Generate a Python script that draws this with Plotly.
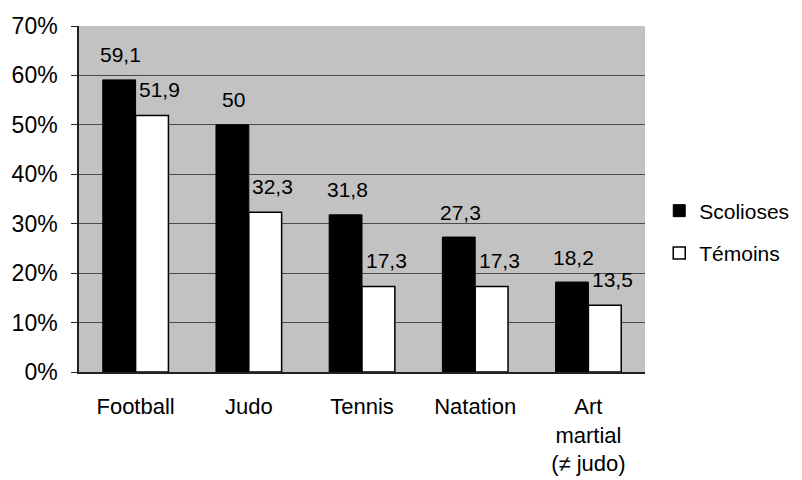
import plotly.graph_objects as go

categories = ["Football", "Judo", "Tennis", "Natation", "Art<br>martial<br>(≠ judo)"]
scolioses = [59.1, 50, 31.8, 27.3, 18.2]
temoins = [51.9, 32.3, 17.3, 17.3, 13.5]
tick_vals = [0, 10, 20, 30, 40, 50, 60, 70]
tick_text = ["0%", "10%", "20%", "30%", "40%", "50%", "60%", "70%"]

def fmt(v):
    s = ("%.1f" % v).rstrip("0").rstrip(".")
    return s.replace(".", ",")

FONT = "Liberation Sans, Arial, sans-serif"

fig = go.Figure()
fig.add_trace(go.Bar(x=categories, y=scolioses, name="Scolioses", legendgroup="a",
                     marker=dict(color="black", line=dict(color="black", width=1))))
fig.add_trace(go.Bar(x=categories, y=temoins, name="Témoins", legendgroup="b",
                     marker=dict(color="white", line=dict(color="black", width=1.5))))

ann = []
for c, v in zip(categories, scolioses):
    ann.append(dict(x=c, y=v, text=fmt(v), showarrow=False, xshift=-15, yshift=25,
                    yanchor="middle", font=dict(family=FONT, size=21, color="black")))
for c, v in zip(categories, temoins):
    ann.append(dict(x=c, y=v, text=fmt(v), showarrow=False, xshift=24, yshift=26,
                    yanchor="middle", font=dict(family=FONT, size=21, color="black")))

fig.update_layout(
    width=802, height=480,
    margin=dict(l=79, r=157, t=26, b=108),
    paper_bgcolor="white",
    plot_bgcolor="#c2c2c2",
    barmode="group",
    bargap=0.42,
    bargroupgap=0,
    showlegend=True,
    legend=dict(xref="container", yref="container", x=0.822, y=1 - 232 / 480,
                xanchor="left", yanchor="middle",
                font=dict(family=FONT, size=21, color="black"),
                bgcolor="rgba(0,0,0,0)", tracegroupgap=12, itemwidth=30),
    annotations=ann,
    font=dict(family=FONT, size=22, color="black"),
)
fig.update_yaxes(range=[0, 70], tickvals=tick_vals, ticktext=tick_text,
                 showgrid=True, gridcolor="#4a4a4a", gridwidth=1,
                 showline=True, linecolor="#222", linewidth=1.5,
                 ticks="outside", ticklen=6, tickcolor="#222",
                 ticklabelstandoff=9, zeroline=False, automargin=False,
                 tickfont=dict(family=FONT, size=23, color="black"))
fig.update_xaxes(showline=True, linecolor="#222", linewidth=1.5,
                 ticks="", ticklabelstandoff=14, automargin=False,
                 tickfont=dict(family=FONT, size=22, color="black"))

fig.write_html("out.html", config={"displayModeBar": False},
               post_script="document.body.style.margin='0';")
